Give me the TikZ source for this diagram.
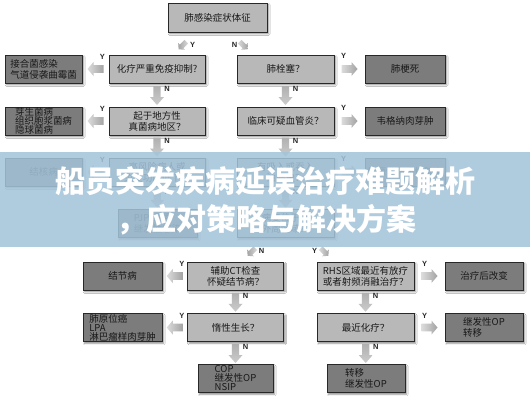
\documentclass[tikz,border=0pt]{standalone}
\usepackage{fontspec}
\newfontfamily\cjk{Noto Sans CJK SC}
\newfontfamily\lab{Liberation Sans}
\usetikzlibrary{shadows.blur,calc}
\definecolor{lfill}{RGB}{184,184,184}
\definecolor{dfill}{RGB}{124,124,124}
\definecolor{bord}{RGB}{40,40,40}
\definecolor{bannerc}{RGB}{163,195,217}
\tikzset{
  pics/larrow/.style={code={\path[left color=gray!28,right color=gray!72]
    (-8,0)--(-2,-7)--(-2,-3.8)--(8,-3.8)--(8,3.8)--(-2,3.8)--(-2,7)--cycle;}},
  pics/rarrow/.style={code={\path[left color=gray!28,right color=gray!72]
    (8,0)--(2,-7)--(2,-3.8)--(-8,-3.8)--(-8,3.8)--(2,3.8)--(2,7)--cycle;}},
  pics/darrow/.style={code={\path[top color=gray!62,bottom color=gray!40]
    (0,10)--(-7,2)--(-3.6,2)--(-3.6,-9)--(3.6,-9)--(3.6,2)--(7,2)--cycle;}},
  pics/dlarrow/.style={code={\path[rotate=225,scale=0.68,left color=gray!72,right color=gray!28]
    (8,0)--(2,-7)--(2,-3.8)--(-8,-3.8)--(-8,3.8)--(2,3.8)--(2,7)--cycle;}},
  pics/drarrow/.style={code={\path[rotate=-45,scale=0.68,left color=gray!28,right color=gray!72]
    (8,0)--(2,-7)--(2,-3.8)--(-8,-3.8)--(-8,3.8)--(2,3.8)--(2,7)--cycle;}},
}
\begin{document}
\begin{tikzpicture}[x=1pt,y=-1pt,
  box/.style={draw=bord, line width=0.9pt, inner xsep=2pt, inner ysep=1pt,
    font=\cjk\fontsize{9.5}{11}\selectfont, text=black!90,
    blur shadow={shadow xshift=1.6pt,shadow yshift=-1.8pt,shadow blur radius=1.6pt,shadow opacity=45},
    minimum height=28pt},
  lbox/.style={box, fill=lfill, align=center},
  dbox/.style={box, fill=dfill, align=left},
  tri/.style={font=\cjk\fontsize{9.5}{9}\selectfont, inner ysep=0pt},
  yn/.style={font=\lab\bfseries\fontsize{7.5}{7.5}\selectfont, text=black!85, inner sep=0pt},
  ttl/.style={font=\cjk\bfseries\fontsize{30}{30}\selectfont, text=white, inner sep=0pt},
]
\fill[white] (0,0) rectangle (530,400);
\useasboundingbox (0,0) rectangle (530,400);

% nodes
\node[lbox, minimum width=99pt, minimum height=29pt] (top) at (217.5,17.5) {肺感染症状体征};

\node[dbox, minimum width=77pt] (A1) at (43.5,69) {接合菌感染\\气道侵袭曲霉菌};
\node[lbox, minimum width=96pt] (B1) at (157,69) {化疗严重免疫抑制?};
\node[lbox, minimum width=97pt] (C1) at (285.5,69) {肺栓塞？};
\node[dbox, minimum width=80pt] (D1) at (405,69) {肺梗死};

\node[dbox, tri, minimum width=77pt] (A2) at (43.5,121) {芽生菌病\\组织胞浆菌病\\隐球菌病};
\node[lbox, minimum width=96pt] (B2) at (157,121) {起于地方性\\真菌病地区？};
\node[lbox, minimum width=97pt] (C2) at (285.5,121) {临床可疑血管炎？};
\node[dbox, minimum width=80pt] (D2) at (405,121) {韦格纳肉芽肿};

\node[dbox, minimum width=77pt] (A3) at (43.5,172) {结核病};
\node[lbox, minimum width=96pt] (B3) at (157,172) {高风险病人或\\免疫功能低下？};
\node[lbox, minimum width=97pt] (C3) at (285.5,172) {有吸入或吞入\\油脂史？};
\node[dbox, minimum width=80pt] (D3) at (405,172) {外源性脂质性肺炎};

\node[dbox, minimum width=79pt] (B4) at (157.5,223.5) {PJP 细菌\\继发性感染};
\node[lbox, minimum width=97pt] (C4) at (285.5,223.5) {病变位于肺\\外周区域？};

\node[dbox, minimum width=79pt] (E5) at (122.5,276) {结节病};
\node[lbox, minimum width=96pt] (F5) at (235.5,276) {辅助CT检查\\怀疑结节病？};
\node[lbox, minimum width=97pt] (G5) at (365.5,276) {RHS区域最近有放疗\\或者射频消融治疗？};
\node[dbox, minimum width=78pt] (H5) at (484,276) {治疗后改变};

\node[dbox, tri, minimum width=79pt] (E6) at (122.5,327.5) {肺原位癌\\LPA\\淋巴瘤样肉芽肿};
\node[lbox, minimum width=96pt] (F6) at (235.5,327.5) {惰性生长？};
\node[lbox, minimum width=97pt] (G6) at (365.5,327.5) {最近化疗？};
\node[dbox, minimum width=78pt] (H6) at (484,327.5) {继发性OP\\转移};

\node[dbox, tri, minimum width=75pt] (F7) at (235.5,378.5) {COP\\继发性OP\\NSIP};
\node[dbox, minimum width=78pt] (G7) at (366,378.5) {转移\\继发性OP};

% top split
\pic at ($(top.south)+(-35,13)$) {dlarrow};
\node[yn] (ytop) at ($(top.south)+(-25,12)$) {Y};
\pic at ($(top.south)+(26,13)$) {drarrow};
\node[yn] (ntop) at ($(top.south)+(17,12)$) {N};

% left arrows rows 1-3
\foreach \s/\t in {B1/A1,B2/A2,B3/A3}{
  \pic at ($(\s.west)!0.5!(\t.east)$) {larrow};
  \node[yn] (y\s) at ($(\s.west)!0.5!(\t.east)+(7,-12)$) {Y};
}
% right arrows rows 1-3
\foreach \s/\t in {C1/D1,C2/D2,C3/D3}{
  \pic at ($(\s.east)!0.5!(\t.west)$) {rarrow};
  \node[yn] (y\s) at ($(\s.east)!0.5!(\t.west)+(-6,-13)$) {Y};
}
% down arrows
\foreach \s/\t in {B1/B2,B2/B3,B3/B4,C1/C2,C2/C3,C3/C4,F5/F6,F6/F7,G5/G6,G6/G7}{
  \pic at ($(\s.south)!0.5!(\t.north)$) {darrow};
  \node[yn] (n\s) at ($(\s.south)!0.5!(\t.north)+(10,-6)$) {N};
}
% C4 split
\pic at ($(C4.south)+(-34,14)$) {dlarrow};
\node[yn] (nC4) at ($(C4.south)+(-24,13)$) {N};
\pic at ($(C4.south)+(39,14)$) {drarrow};
\node[yn] (yC4) at ($(C4.south)+(29,13)$) {Y};

% left arrows rows 5-6
\foreach \s/\t in {F5/E5,F6/E6}{
  \pic at ($(\s.west)!0.5!(\t.east)$) {larrow};
  \node[yn] (y\s) at ($(\s.west)!0.5!(\t.east)+(7,-12)$) {Y};
}
% right arrows rows 5-6
\foreach \s/\t in {G5/H5,G6/H6}{
  \pic at ($(\s.east)!0.5!(\t.west)$) {rarrow};
  \node[yn] (y\s) at ($(\s.east)!0.5!(\t.west)+(-5,-12)$) {Y};
}

% banner
\fill[bannerc, opacity=0.86] (0,152) rectangle (530,247);
\node[ttl] (t1) at (265,181) {船员突发疾病延误治疗难题解析};
\node[ttl] (t2) at (266,220) {，应对策略与解决方案};
\end{tikzpicture}
\end{document}
